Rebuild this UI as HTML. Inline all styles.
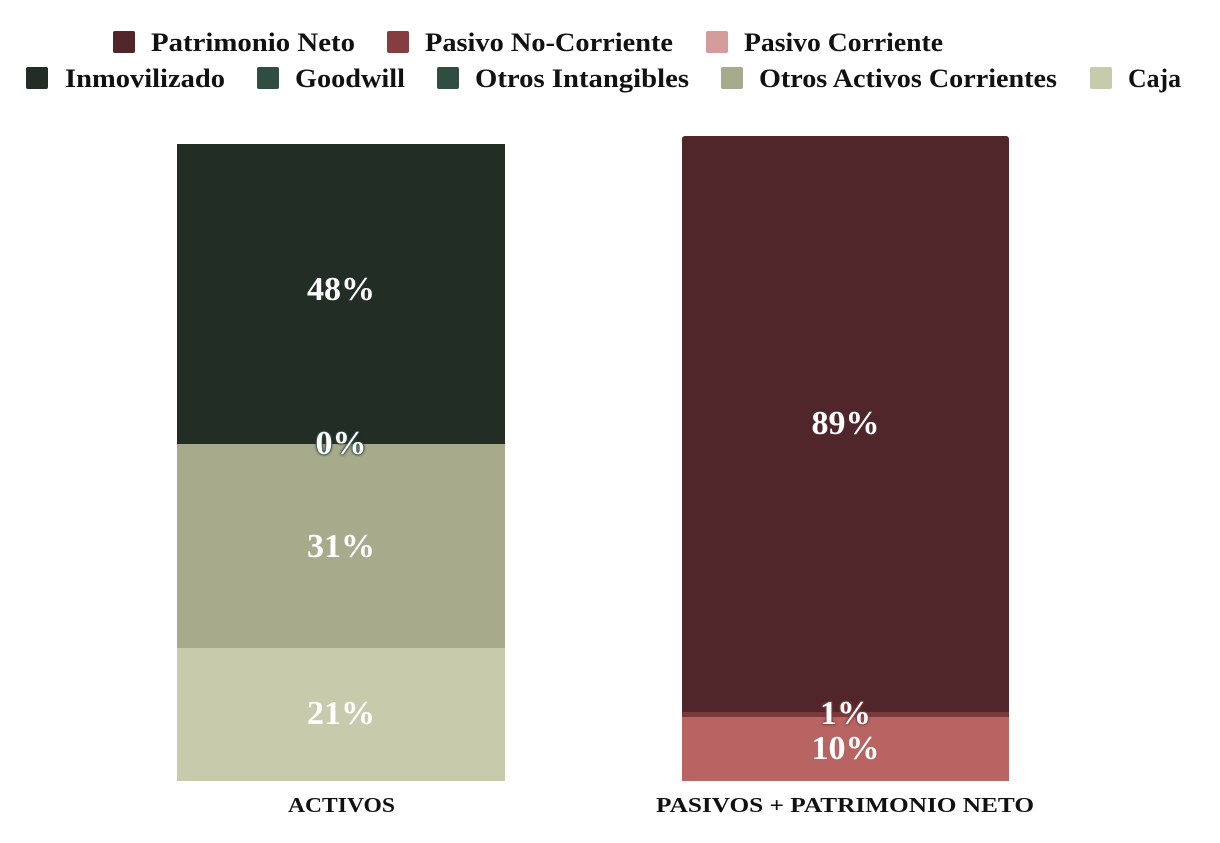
<!DOCTYPE html>
<html><head><meta charset="utf-8"><style>
body{margin:0;width:1220px;height:843px;background:#fff;font-family:"Liberation Serif",serif;position:relative;overflow:hidden}
.b{position:absolute}
.t{position:absolute;color:#fff;font-weight:bold;font-size:34px;text-align:center;width:100%;line-height:1}
svg{position:absolute;left:0;top:0}
</style></head><body>
<div class="b" style="left:177px;top:144px;width:328px;height:300px;background:#222d26"></div>
<div class="b" style="left:177px;top:444px;width:328px;height:204px;background:#a7aa8b"></div>
<div class="b" style="left:177px;top:648px;width:328px;height:133px;background:#c8cbab"></div>
<div class="b" style="left:177px;top:0;width:328px;height:843px">
<div class="t" style="top:273px">48%</div>
<div class="t" style="top:427px;text-shadow:0 0 3px #2f4d40,0 0 2px #2f4d40,0 0 2px #2f4d40,0 0 1px #2f4d40">0%</div>
<div class="t" style="top:530px">31%</div>
<div class="t" style="top:697px">21%</div>
</div>

<div class="b" style="left:682px;top:136px;width:327px;height:577px;background:#51262a;border-radius:3px 3px 0 0"></div>
<div class="b" style="left:682px;top:712px;width:327px;height:5px;background:#7a3a3a"></div>
<div class="b" style="left:682px;top:717px;width:327px;height:64px;background:#b86462"></div>
<div class="b" style="left:682px;top:0;width:327px;height:843px">
<div class="t" style="top:407px">89%</div>
<div class="t" style="top:697px;text-shadow:0 0 3px #853d40,0 0 2px #853d40,0 0 2px #853d40,0 0 1px #853d40">1%</div>
<div class="t" style="top:732px">10%</div>
</div>

<svg width="1220" height="843" font-family="Liberation Serif, serif" fill="#111">
<g font-size="26" font-weight="bold">
<rect x="113" y="31" width="22" height="22" rx="2" fill="#51262a"/><text x="151" y="51" textLength="204" lengthAdjust="spacingAndGlyphs">Patrimonio Neto</text>
<rect x="387" y="31" width="22" height="22" rx="2" fill="#853d40"/><text x="425" y="51" textLength="248" lengthAdjust="spacingAndGlyphs">Pasivo No-Corriente</text>
<rect x="706" y="31" width="22" height="22" rx="2" fill="#d59c9c"/><text x="744" y="51" textLength="199" lengthAdjust="spacingAndGlyphs">Pasivo Corriente</text>
<rect x="26" y="67" width="22" height="22" rx="2" fill="#222d26"/><text x="65" y="87" textLength="160" lengthAdjust="spacingAndGlyphs">Inmovilizado</text>
<rect x="257" y="67" width="22" height="22" rx="2" fill="#2f4d40"/><text x="295" y="87" textLength="110" lengthAdjust="spacingAndGlyphs">Goodwill</text>
<rect x="437" y="67" width="22" height="22" rx="2" fill="#2f4d40"/><text x="475" y="87" textLength="214" lengthAdjust="spacingAndGlyphs">Otros Intangibles</text>
<rect x="721" y="67" width="22" height="22" rx="2" fill="#a7aa8b"/><text x="759" y="87" textLength="298" lengthAdjust="spacingAndGlyphs">Otros Activos Corrientes</text>
<rect x="1090" y="67" width="22" height="22" rx="2" fill="#c8cbab"/><text x="1128" y="87" textLength="53" lengthAdjust="spacingAndGlyphs">Caja</text>
</g>
<g font-size="21" font-weight="bold">
<text x="288" y="812" textLength="107" lengthAdjust="spacingAndGlyphs">ACTIVOS</text>
<text x="656" y="812" textLength="378" lengthAdjust="spacingAndGlyphs">PASIVOS + PATRIMONIO NETO</text>
</g>
</svg>
</body></html>
